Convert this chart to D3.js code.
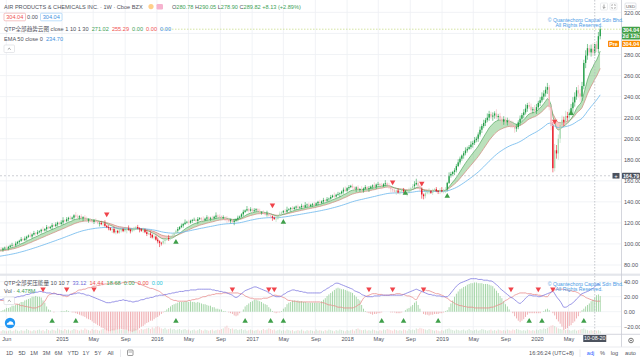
<!DOCTYPE html>
<html><head><meta charset="utf-8">
<script src="https://cdn.jsdelivr.net/npm/d3@7"></script>
<style>
html,body{margin:0;padding:0;background:#fff;}
svg{display:block;font-family:"Liberation Sans",Arial,"Noto Sans CJK SC",sans-serif;}
</style></head><body>
<svg id="c" width="640" height="360"></svg>
<script>
// ---------------- DATA ----------------
const startDate = "2014-05-05";   // first weekly bar
const firstOpen = 94.6;
const closes = [
95.0,94.6,95.8,96.5,96.0,97.2,98.4,99.1,98.6,100.4,101.9,103.0,
104.5,103.6,105.2,106.8,108.0,107.1,109.0,110.4,109.6,111.2,112.0,
113.5,112.8,114.1,116.0,115.0,
116.2,117.8,117.0,118.6,120.2,119.0,
120.5,122.4,121.6,123.5,124.8,123.9,125.0,
127.2,126.0,125.1,126.3,
124.6,125.4,123.0,122.1,123.4,121.8,121.0,
122.3,121.2,119.6,120.0,
118.8,119.5,117.2,116.0,115.0,113.4,114.2,111.0,
112.4,110.8,112.9,114.0,112.2,113.0,
114.6,113.5,112.0,113.0,115.2,116.1,114.8,114.0,
112.5,113.4,111.2,109.5,110.0,
108.6,106.2,107.0,104.1,102.5,101.0,
100.5,102.8,104.0,
105.6,104.8,106.9,108.0,
110.2,112.6,114.1,116.0,
117.4,119.0,120.3,121.0,
120.2,122.0,122.8,123.0,
121.8,123.6,124.5,123.2,122.6,124.0,
125.3,123.9,124.8,124.5,
125.8,127.0,126.1,126.0,
124.7,125.2,123.6,123.0,
121.5,123.0,120.8,122.0,
123.5,124.9,126.0,
128.2,130.5,131.8,133.0,
131.6,132.9,131.2,132.0,
133.0,131.5,129.8,130.0,
129.2,128.0,128.6,127.0,
126.2,125.0,123.8,124.0,
126.5,128.8,130.0,
131.2,130.6,132.4,133.0,
134.1,133.2,134.6,135.5,134.4,135.0,
136.2,135.1,136.8,137.4,136.0,
137.2,138.0,137.1,138.6,140.0,139.0,
140.4,141.8,141.0,142.5,143.0,
144.6,145.9,145.0,146.7,147.5,148.0,
149.8,151.6,150.5,153.0,154.0,
155.2,153.6,152.4,153.8,151.6,152.0,
150.8,152.6,154.0,152.4,153.0,
154.5,155.6,154.2,156.4,157.0,156.0,
155.0,156.8,157.6,156.0,
154.2,152.0,
151.0,149.6,150.8,148.9,150.0,
151.2,150.0,148.2,149.0,
151.4,153.0,
155.0,156.6,158.0,
155.2,152.0,147.0,
145.4,148.2,149.0,150.0,
148.6,150.4,152.0,150.2,149.4,151.0,
150.0,151.4,152.0,
158.0,165.0,
166.5,168.4,170.0,
174.0,177.5,181.0,184.0,
186.2,188.8,190.4,192.0,
194.5,196.0,198.6,200.0,
204.0,208.5,212.0,
215.0,217.6,220.0,
223.5,221.0,222.0,
224.0,220.5,221.6,219.0,
216.2,218.4,215.6,217.0,
214.5,213.0,212.0,
209.6,211.0,
215.5,219.0,
222.4,225.0,228.6,232.0,
230.4,227.0,228.0,
226.5,230.0,
234.0,236.5,240.0,
243.0,246.5,249.0,
230.0,212.0,172.0,189.0,186.0,200.0,213.0,218.0,
216.0,221.5,220.0,
225.0,
229.0,234.5,240.0,
246.0,243.0,240.0,250.0,272.0,279.0,286.0,282.0,285.5,281.69,289.82,285.2,297.4,304.04
];
const wickUp = [
1,2,1,1,2,1,1,2,1,2,1,1,2,1,2,1,1,3,1,2,
1,2,1,1,3,1,2,1,1,2,1,2,1,1,2,3,1,2,1,2,
1,1,3,2,1,2,1,2,3,1,1,2,1,2,1,1,2,1,3,1,
2,1,1,2,3,1,2,1,1,2,1,3,1,2,1,1,2,1,1,2,
1,2,1,2,1,3,1,2,1,1,2,1,2,3,1,2,1,1,2,1,
2,1,3,1,2,1,1,2,1,2,1,1,3,1,2,1,1,2,1,3,
1,2,1,2,1,3,2,1,1,2,1,2,1,1,2,1,3,1,2,1,
2,1,1,2,1,2,1,3,1,2,1,1,2,1,2,1,1,2,3,1,
1,2,1,1,2,1,2,1,3,1,2,1,1,2,1,1,2,1,2,1,
2,1,2,1,3,1,2,1,1,2,3,1,2,1,2,1,1,2,1,3,
1,2,1,2,1,1,3,1,2,1,2,1,3,1,2,1,1,2,1,2,
3,1,2,1,1,2,1,2,3,4,2,1,2,1,2,1,3,1,2,1,
2,1,2,3,1,2,1,3,2,1,2,2,3,2,1,2,3,2,2,3,
2,3,2,2,3,2,3,2,4,3,2,3,2,4,2,3,2,3,2,3,
2,3,4,2,3,2,3,2,3,4,2,3,3,2,4,3,2,3,4,3,
3,4,2,3,4,6,5,4,3,4,3,5,4,3,4,5,4,3,5,4,
4,3,5,4,3,4,5,0.23,3,4,2
];
const wickDn = [
1,1,2,1,1,2,1,1,2,1,1,2,1,1,1,2,1,1,2,1,
2,1,1,2,1,1,2,1,1,3,1,1,2,1,1,2,1,1,2,1,
1,2,1,1,2,1,3,1,1,2,1,1,2,1,1,3,1,2,1,1,
2,1,3,1,2,1,1,2,1,1,3,1,2,1,1,2,1,3,1,2,
1,2,1,3,1,2,1,2,4,2,1,3,1,2,1,2,1,1,2,1,
1,2,1,1,2,1,2,1,1,3,1,2,1,1,2,1,2,1,1,2,
1,2,1,1,2,3,1,2,1,3,1,2,1,1,2,1,1,2,1,2,
1,1,2,1,2,1,1,2,1,2,3,1,3,1,2,1,1,2,1,1,
2,1,1,2,1,1,2,1,1,2,1,1,2,1,1,2,1,1,2,1,
1,2,1,1,2,1,1,3,1,2,1,1,2,1,1,2,3,1,2,1,
2,1,1,3,1,2,1,2,1,1,3,1,2,1,2,3,2,1,3,1,
2,1,2,1,3,1,2,1,2,1,3,2,4,3,2,1,2,1,2,1,
1,2,2,1,2,3,2,1,2,2,3,2,1,2,2,3,2,2,1,2,
3,2,2,3,2,3,2,3,2,3,2,4,3,2,3,2,4,3,2,3,
2,3,2,4,3,2,3,2,3,2,3,2,4,3,2,3,2,3,2,3,
3,4,3,4,4,3,5,6,4,3,4,5,3,4,3,5,4,3,4,5,
4,3,5,4,3,4,3,2.79,3,4,3
];
const volumes = [ // millions
5,4,6,5,4,5,6,4,5,7,5,4,6,5,5,8,6,5,4,6,
5,6,7,5,6,4,8,6,5,7,6,5,9,7,6,5,8,6,7,5,
6,8,7,6,5,7,6,9,7,6,5,8,6,7,6,5,7,8,6,9,
7,6,8,9,7,6,8,7,9,6,7,8,6,7,9,8,7,6,8,7,
8,9,10,8,11,9,12,13,11,9,8,10,7,8,9,7,8,6,7,8,
6,7,8,6,7,5,6,7,5,6,8,6,5,7,6,5,6,7,5,6,
7,6,8,9,12,14,10,8,9,7,8,6,7,8,6,7,5,6,7,6,
5,6,7,5,6,8,6,7,9,8,6,7,5,6,7,5,6,5,7,6,
5,6,4,5,6,5,7,5,4,6,5,6,5,4,7,5,6,5,4,6,
5,7,6,5,4,6,5,7,6,5,4,6,5,6,7,5,8,9,7,6,
6,7,5,6,5,7,6,5,4,6,5,7,6,8,7,6,5,7,6,5,
6,5,7,6,5,8,6,7,6,9,8,10,9,8,7,6,8,7,6,5,
6,5,4,6,5,7,8,9,7,6,5,7,6,5,6,7,5,6,8,6,
5,6,7,5,6,8,7,6,5,6,7,5,6,5,7,6,5,6,5,7,
6,5,7,6,8,7,6,5,6,5,7,6,5,6,5,7,6,8,7,9,
8,10,12,14,15,13,11,9,8,7,8,6,7,6,5,6,7,5,6,7,
8,9,7,6,5,6,5,4.478,5,6,4
];
// QTP pressure indicator lines (blue = buy, red = sell)
const buyLine = [
16,16,17,17,18,18,18,19,19,19,20,20,
21,21,22,23,23,24,25,25,26,26,27,
27,26,26,25,25,
25,24,24,24,23,23,23,22,22,22,
22,23,23,24,24,25,25,
24,24,23,22,22,21,20,
19,18,17,16,15,14,13,12,12,
12,13,13,14,14,15,15,16,
15,15,14,14,13,
13,14,14,15,16,16,17,18,
18,19,19,20,21,21,22,
22,22,23,23,
24,24,25,25,26,26,27,
27,27,28,28,28,29,29,
29,29,30,30,30,30,30,30,30,
30,29,29,28,28,27,27,26,26,25,
24,23,22,20,19,
20,22,24,26,28,29,
30,31,32,33,33,
32,31,30,29,28,27,
25,24,22,21,
20,20,20,
21,23,24,26,27,28,29,
29,28,28,27,27,26,26,25,
25,25,25,25,25,25,25,
26,28,29,31,32,34,35,37,38,
38,37,36,35,34,33,
32,31,30,28,27,26,25,23,22,21,20,
20,20,20,21,21,21,21,22,22,22,22,
22,22,22,22,22,22,22,22,
23,24,25,26,27,28,29,30,
29,28,27,26,
25,24,23,23,22,
22,21,21,21,20,20,20,20,
22,25,28,31,34,36,38,
39,40,41,42,43,44,44,
44,44,43,43,43,42,42,42,
41,41,40,
38,36,34,31,29,
27,25,23,21,19,18,
16,14,12,11,
13,15,18,20,22,
22,21,21,21,20,20,
21,22,23,24,25,26,27,
24,20,17,14,10,6,
6,7,9,
10,12,14,17,19,22,24,
25,26,27,28,30,31,33.12,
36,37,35
];
const sellLine = [
16,15,15,14,13,13,12,
11,11,10,10,9,
8,8,7,7,6,
6,5,5,5,
6,7,8,
11,14,18,22,
23,24,25,
24,23,23,22,
21,21,20,
21,23,24,25,
26,28,29,
29,30,30,31,
32,32,33,
34,34,35,35,36,
36,37,37,38,
38,38,38,38,38,38,
38,39,39,39,40,40,40,
39,39,38,37,
36,35,34,33,
32,31,31,30,
29,28,27,
25,23,22,20,
19,17,16,
15,15,14,14,
14,14,14,14,
15,15,16,
16,17,17,18,
19,20,20,21,22,
22,23,23,24,24,
24,24,25,25,25,
25,25,25,25,25,
25,24,24,
23,21,20,
19,18,18,17,17,
17,17,17,18,18,18,
19,20,21,22,
22,21,21,20,
19,18,16,15,
15,14,14,14,13,13,
13,13,13,13,13,13,13,13,13,13,13,
12,12,11,10,
9,9,8,8,7,
6,6,6,5,5,
5,5,5,5,
6,7,9,10,
14,18,
20,21,22,23,24,
24,24,23,23,23,22,22,22,
22,23,23,23,24,24,24,
23,23,22,21,21,20,
19,17,16,
20,24,27,29,
29,28,28,27,26,
25,24,24,23,22,
21,19,18,16,
14,13,11,
10,9,8,
8,7,7,6,6,
6,6,5,5,
5,5,5,5,5,5,
5,6,6,7,
8,9,10,11,
13,15,16,18,
19,20,22,23,24,25,
25,25,25,24,24,
24,23,23,23,22,22,
21,21,20,20,
23,26,29,
29,30,30,30,
30,30,29,29,
28,28,27,27,
26,25,23,22,
21,19,18,17,
16,15,14.44,
14,14,14
];
// EMA seeds (values of the averages at the first visible bar)
const emaFastLen = 10, emaSlowLen = 20, emaLongLen = 50;
const emaFastSeed = 94, emaSlowSeed = 93, emaLongSeed = 88;
// signal markers (bar index, price)
const mainSellIdx = [59,150,216,232,305];
const mainSellPx  = [128.3,136.9,158.7,157.7,216.5];
const mainBuyIdx  = [97,156,223,246,314];
const mainBuyPx   = [101.8,120.8,148.2,145.4,224.0];
const indSellIdx = [24,37,52,128,148,151,203,216,233,281,296,304];
const indBuyIdx  = [29,42,97,135,149,156,210,222,241,291,298,321];
const crossIdx = 327, crossPrice = 164.79;
const lastPrice = 304.04;
const priceTicks = [80,100,120,140,160,180,200,220,240,260,280,300,320];
const indTicks = [-20,0,20,40];
const monthTicks = ["2014-06-01","2015-01-01","2015-05-01","2015-09-01","2016-01-01","2016-05-01","2016-09-01","2017-01-01","2017-05-01","2017-09-01","2018-01-01","2018-05-01","2018-09-01","2019-01-01","2019-05-01","2019-09-01","2020-01-01","2020-05-01"];
const monthLabels = ["Jun","2015","May","Sep","2016","May","Sep","2017","May","Sep","2018","May","Sep","2019","May","Sep","2020","May"];
const rangeButtons = ["1D","5D","1M","3M","6M","YTD","1Y","5Y","All"];

// ---------------- SETUP ----------------
const svg = d3.select("#c");
const FS = 5.6;
const parse = d3.timeParse("%Y-%m-%d");
const t0 = parse(startDate);
const N = Math.min(closes.length, wickUp.length, wickDn.length, volumes.length, buyLine.length, sellLine.length);
const bars = d3.range(N).map(i => {
  const o = i === 0 ? firstOpen : closes[i-1];
  const c = closes[i];
  return {i, date: d3.timeDay.offset(t0, 7*i), o, c,
    h: Math.max(o,c) + wickUp[i], l: Math.min(o,c) - wickDn[i],
    v: volumes[i], b: buyLine[i], s: sellLine[i]};
});
function ema(src, n, seed){ const a = 2/(n+1); let e = seed; return src.map(v => (e = e + a*(v-e))); }
const cl = bars.map(d => d.c);
const eF = ema(cl, emaFastLen, emaFastSeed), eS = ema(cl, emaSlowLen, emaSlowSeed), eL = ema(cl, emaLongLen, emaLongSeed);
bars.forEach((d,i) => { d.f = eF[i]; d.sl = eS[i]; d.L = eL[i]; });

const PR = 621;                    // price-axis x
const x = d3.scaleTime().domain([parse("2015-01-01"), parse("2020-01-01")]).range([62, 537]);
const y = d3.scaleLinear().domain([80, 320]).range([265, 12.4]);
const yI = d3.scaleLinear().domain([-20, 40]).range([326.7, 281.7]);
const yV = d3.scaleLinear().domain([0, 16]).range([333.5, 324.5]);
const X = i => x(bars[i].date);

const defs = svg.append("defs");
defs.append("clipPath").attr("id","mainClip").append("rect").attr("x",0).attr("y",0).attr("width",PR).attr("height",273);
defs.append("clipPath").attr("id","indClip").append("rect").attr("x",0).attr("y",276).attr("width",PR).attr("height",58);

// ---------------- GRID ----------------
const grid = svg.append("g");
grid.selectAll(".vg").data(monthTicks.map(parse)).join("line")
  .attr("x1", d => x(d)).attr("x2", d => x(d)).attr("y1", 0).attr("y2", 334)
  .attr("stroke", "#eef0f4").attr("stroke-width", 0.8);
grid.selectAll(".hg").data(priceTicks).join("line")
  .attr("x1", 0).attr("x2", PR).attr("y1", d => y(d)).attr("y2", d => y(d))
  .attr("stroke", "#eef0f4").attr("stroke-width", 0.8);
grid.selectAll(".ig").data(indTicks).join("line")
  .attr("x1", 0).attr("x2", PR).attr("y1", d => yI(d)).attr("y2", d => yI(d))
  .attr("stroke", "#eef0f4").attr("stroke-width", 0.8);

// ---------------- MAIN PANE ----------------
const main = svg.append("g").attr("clip-path","url(#mainClip)");
const areaBetween = d3.area().x(d => X(d.i)).y0(d => y(d.sl)).y1(d => y(d.f));
defs.append("clipPath").attr("id","aboveSlow").append("path")
  .attr("d", d3.area().x(d => X(d.i)).y0(d => y(d.sl)).y1(0)(bars));
defs.append("clipPath").attr("id","belowSlow").append("path")
  .attr("d", d3.area().x(d => X(d.i)).y0(d => y(d.sl)).y1(300)(bars));
main.append("path").attr("d", areaBetween(bars)).attr("fill","rgba(76,175,80,0.38)").attr("clip-path","url(#aboveSlow)");
main.append("path").attr("d", areaBetween(bars)).attr("fill","rgba(239,83,80,0.32)").attr("clip-path","url(#belowSlow)");
main.append("path").attr("d", d3.line().x(d => X(d.i)).y(d => y(d.sl))(bars)).attr("fill","none").attr("stroke","#c98a7a").attr("stroke-width",0.7);
main.append("path").attr("d", d3.line().x(d => X(d.i)).y(d => y(d.f))(bars)).attr("fill","none").attr("stroke","#55a862").attr("stroke-width",0.7);
main.append("path").attr("d", d3.line().x(d => X(d.i)).y(d => y(d.L))(bars)).attr("fill","none").attr("stroke","#6ab6ec").attr("stroke-width",0.8);
function candleColor(d){
  const up = d.c >= d.o, trendUp = d.f >= d.sl;
  const bright = up === trendUp;
  if (up) return bright ? "#1f9d45" : "#a9d9b2";
  return bright ? "#e8101e" : "#f2b3b8";
}
const cg = main.append("g");
cg.selectAll("line").data(bars).join("line")
  .attr("x1", d => X(d.i)).attr("x2", d => X(d.i)).attr("y1", d => y(d.h)).attr("y2", d => y(d.l))
  .attr("stroke", candleColor).attr("stroke-width", 0.55);
cg.selectAll("rect").data(bars).join("rect")
  .attr("x", d => X(d.i) - 0.65).attr("width", 1.3)
  .attr("y", d => y(Math.max(d.o,d.c))).attr("height", d => Math.max(0.6, Math.abs(y(d.o)-y(d.c))))
  .attr("fill", candleColor);
const tri = d3.symbol().type(d3.symbolTriangle).size(13);
main.selectAll(".ms").data(mainSellIdx).join("path").attr("d", tri)
  .attr("transform", (d,k) => `translate(${X(d)},${y(mainSellPx[k])}) rotate(180)`).attr("fill","#f0434a");
main.selectAll(".mb").data(mainBuyIdx).join("path").attr("d", tri)
  .attr("transform", (d,k) => `translate(${X(d)},${y(mainBuyPx[k])})`).attr("fill","#3f9f4a");
main.append("line").attr("x1",160).attr("x2",PR).attr("y1",y(lastPrice)).attr("y2",y(lastPrice))
  .attr("stroke","#c9dd8c").attr("stroke-width",0.8).attr("stroke-dasharray","1.5,1.5");
main.append("line").attr("x1",0).attr("x2",612).attr("y1",y(crossPrice)).attr("y2",y(crossPrice))
  .attr("stroke","#b7bac2").attr("stroke-width",0.7).attr("stroke-dasharray","2,2");

// ---------------- INDICATOR PANE ----------------
const ind = svg.append("g").attr("clip-path","url(#indClip)");
ind.selectAll(".vol").data(bars).join("rect")
  .attr("x", d => X(d.i) - 0.5).attr("width", 1)
  .attr("y", d => yV(d.v)).attr("height", d => yV(0) - yV(d.v))
  .attr("fill", d => d.c >= d.o ? "rgba(120,180,130,0.35)" : "rgba(235,130,130,0.35)");
ind.selectAll(".hist").data(bars).join("rect")
  .attr("x", d => X(d.i) - 0.45).attr("width", 0.9)
  .attr("y", d => Math.min(yI(0), yI(d.b - d.s))).attr("height", d => Math.abs(yI(d.b - d.s) - yI(0)))
  .attr("fill", d => d.b >= d.s ? "#9fd3a2" : "#efa9ad");
ind.append("path").attr("d", d3.line().x(d => X(d.i)).y(d => yI(d.s)).curve(d3.curveMonotoneX)(bars))
  .attr("fill","none").attr("stroke","#e98b8b").attr("stroke-width",0.8);
ind.append("path").attr("d", d3.line().x(d => X(d.i)).y(d => yI(d.b)).curve(d3.curveMonotoneX)(bars))
  .attr("fill","none").attr("stroke","#7d78e0").attr("stroke-width",0.8);
ind.selectAll(".is").data(indSellIdx).join("path").attr("d", tri)
  .attr("transform", d => `translate(${X(d)},${yI(30)}) rotate(180)`).attr("fill","#f0434a");
ind.selectAll(".ib").data(indBuyIdx).join("path").attr("d", tri)
  .attr("transform", d => `translate(${X(d)},${yI(-12.5)})`).attr("fill","#3f9f4a");

svg.append("rect").attr("x",0).attr("y",273.6).attr("width",640).attr("height",2.2).attr("fill","#e4e6eb");

const cx = X(crossIdx);
svg.append("line").attr("x1",cx).attr("x2",cx).attr("y1",0).attr("y2",334)
  .attr("stroke","#b7bac2").attr("stroke-width",0.8).attr("stroke-dasharray","1.5,1.5");

// ---------------- AXES ----------------
const txtCol = "#50535e";
// the 300.00 label sits under the last-price badges, as in the reference
const priceLabelTicks = priceTicks.filter(v => v !== 300);
const ya = svg.append("g").attr("transform",`translate(${PR},0)`)
  .call(d3.axisRight(y).tickValues(priceLabelTicks).tickFormat(d3.format(".2f")).tickSize(0).tickPadding(3));
ya.select(".domain").remove();
ya.selectAll("text").attr("font-size",FS).attr("fill",txtCol).attr("font-family",null);
const yia = svg.append("g").attr("transform",`translate(${PR},0)`)
  .call(d3.axisRight(yI).tickValues(indTicks).tickFormat(d3.format(".2f")).tickSize(0).tickPadding(3));
yia.select(".domain").remove();
yia.selectAll("text").attr("font-size",FS).attr("fill",txtCol).attr("font-family",null);
const xa = svg.append("g").attr("transform","translate(0,334)")
  .call(d3.axisBottom(x).tickValues(monthTicks.map(parse)).tickFormat((d,i) => monthLabels[i]).tickSize(0).tickPadding(3.5));
xa.select(".domain").remove();
xa.selectAll("text").attr("font-size",FS).attr("fill",txtCol).attr("font-family",null);
svg.append("line").attr("x1",PR+0.5).attr("x2",PR+0.5).attr("y1",0).attr("y2",347).attr("stroke","#c9ccd4").attr("stroke-width",0.8);
svg.append("line").attr("x1",0).attr("x2",640).attr("y1",334.3).attr("y2",334.3).attr("stroke","#c9ccd4").attr("stroke-width",0.8);
svg.append("line").attr("x1",0).attr("x2",640).attr("y1",347).attr("y2",347).attr("stroke","#e4e6eb").attr("stroke-width",0.8);

function badge(yc, text, fill, x0, w){
  svg.append("rect").attr("x",x0).attr("y",yc-3.1).attr("width",w).attr("height",6.2).attr("fill",fill).attr("rx",0.6);
  svg.append("text").attr("x",x0+w/2).attr("y",yc+1.9).attr("text-anchor","middle").attr("font-size",5.3).attr("font-weight","bold").attr("fill","#fff").text(text);
}
badge(y(lastPrice)+0.6, "304.04", "#43a047", 622, 18);
badge(y(lastPrice)+7.1, "2d 12h", "#43a047", 622, 18);
badge(y(lastPrice)+14.6, "304.04", "#fb8c00", 622, 18);
badge(y(lastPrice)+14.6, "Pre", "#fb8c00", 608, 11);
svg.append("rect").attr("x",612.5).attr("y",y(crossPrice)-2.8).attr("width",7).attr("height",5.6).attr("fill","#4c525e");
svg.append("text").attr("x",616).attr("y",y(crossPrice)+2).attr("text-anchor","middle").attr("font-size",6).attr("fill","#fff").text("+");
badge(y(crossPrice), "164.79", "#4c525e", 622, 18);
svg.append("rect").attr("x",cx-11.5).attr("y",335).attr("width",23).attr("height",7).attr("fill","#4c525e");
svg.append("text").attr("x",cx).attr("y",340.4).attr("text-anchor","middle").attr("font-size",5.4).attr("fill","#fff").text("10-08-20");
svg.append("circle").attr("cx",631).attr("cy",340.5).attr("r",2.3).attr("fill","none").attr("stroke","#555").attr("stroke-width",0.8);
svg.append("circle").attr("cx",631).attr("cy",340.5).attr("r",0.8).attr("fill","#555");
svg.append("rect").attr("x",625).attr("y",3).attr("width",11).attr("height",6.5).attr("rx",1).attr("fill","#fff").attr("stroke","#cfd2d8").attr("stroke-width",0.6);
svg.append("text").attr("x",630.5).attr("y",7.9).attr("text-anchor","middle").attr("font-size",4.3).attr("fill","#555").text("USD");
svg.append("rect").attr("x",600.5).attr("y",3).attr("width",7).attr("height",7).attr("rx",1).attr("fill","#fff").attr("stroke","#d6d8dd").attr("stroke-width",0.5);
svg.append("path").attr("d","M604,4.5V8.3M602.6,7L604,8.4L605.4,7").attr("stroke","#666").attr("stroke-width",0.6).attr("fill","none");
svg.append("rect").attr("x",610).attr("y",3).attr("width",7).attr("height",7).attr("rx",1).attr("fill","#fff").attr("stroke","#d6d8dd").attr("stroke-width",0.5);
svg.append("path").attr("d","M611.8,5.8V4.8H612.8M614.2,4.8H615.2V5.8M615.2,7.2V8.2H614.2M612.8,8.2H611.8V7.2").attr("stroke","#666").attr("stroke-width",0.55).attr("fill","none");

// ---------------- LEGENDS ----------------
function legend(xp, yp, parts, size){
  const t = svg.append("text").attr("x",xp).attr("y",yp).attr("font-size",size||FS).attr("xml:space","preserve");
  parts.forEach(p => t.append("tspan").attr("fill",p[1]).text(p[0]));
  return t;
}
const gray = "#4f525b", grn = "#3ea257", red = "#ef5350", blu = "#3d8fe0";
legend(4, 8.8, [["AIR PRODUCTS & CHEMICALS INC. · 1W · Cboe BZX", gray]], 5.6);
svg.append("circle").attr("cx",151).attr("cy",6.6).attr("r",2.6).attr("fill","#ffcf8a");
svg.append("rect").attr("x",156.5).attr("y",4).attr("width",6.5).attr("height",5.4).attr("rx",1.2).attr("fill","#f6b3cf");
legend(172, 8.8, [["O",gray],["280.78",grn],[" H",gray],["290.05",grn],[" L",gray],["278.90",grn],[" C",gray],["289.82",grn],[" +8.13 (+2.89%)",grn]]);
svg.append("rect").attr("x",4).attr("y",13.2).attr("width",21.5).attr("height",7.6).attr("rx",1).attr("fill","#fff").attr("stroke","#ef9a9a").attr("stroke-width",0.6);
svg.append("text").attr("x",14.75).attr("y",18.9).attr("text-anchor","middle").attr("font-size",FS).attr("fill",red).text("304.04");
svg.append("text").attr("x",32.5).attr("y",18.9).attr("text-anchor","middle").attr("font-size",FS).attr("fill",gray).text("0.00");
svg.append("rect").attr("x",40.5).attr("y",13.2).attr("width",21.5).attr("height",7.6).attr("rx",1).attr("fill","#fff").attr("stroke","#90caf9").attr("stroke-width",0.6);
svg.append("text").attr("x",51.25).attr("y",18.9).attr("text-anchor","middle").attr("font-size",FS).attr("fill",blu).text("304.04");
legend(4, 31.4, [["QTP全部趋势云图 close 1 10 1 30  ",gray],["271.02  ",grn],["255.29  ",red],["0.00  ",grn],["0.00  ",red],["0.00",blu]]);
legend(4, 40.9, [["EMA 50 close 0  ",gray],["234.70",blu]]);
function collapseBtn(x0, y0){
  svg.append("rect").attr("x",x0).attr("y",y0).attr("width",10.5).attr("height",7.5).attr("rx",1).attr("fill","#fff").attr("stroke","#d6d8dd").attr("stroke-width",0.6);
  svg.append("path").attr("d",`M${x0+3.8},${y0+4.6}L${x0+5.25},${y0+3.2}L${x0+6.7},${y0+4.6}`).attr("stroke","#555").attr("stroke-width",0.6).attr("fill","none");
}
collapseBtn(4, 45);
legend(4, 284.8, [["QTP全部买压能量 10 10 7  ",gray],["33.12  ","#6f6ad8"],["14.44  ",red],["18.68  ",grn],["0.00  ",grn],["0.00  ",red],["0.00","#26c6da"]]);
legend(4, 293, [["Vol · ",gray],["4.478M",grn]]);
collapseBtn(4, 297);
svg.append("circle").attr("cx",10).attr("cy",323).attr("r",5.2).attr("fill","#2196f3");
svg.append("path").attr("d","M6.8,324.8 Q6.8,322.6 8.6,322.6 Q9.4,320.6 11.4,321.4 Q13.4,321.6 13.2,323.6 Q14.2,324 13.6,324.8 Z").attr("fill","#fff");
function watermark(yb){
  svg.append("text").attr("x",585.5).attr("y",yb).attr("text-anchor","middle").attr("font-size",5.2).attr("fill","#4a9be6").text("© Quantechorp Capital Sdn Bhd.");
  svg.append("text").attr("x",579).attr("y",yb+4.6).attr("text-anchor","middle").attr("font-size",5.2).attr("fill","#4a9be6").text("All Rights Reserved.");
}
watermark(22.3);
watermark(286.2);

// ---------------- BOTTOM TOOLBAR ----------------
const tb = svg.append("g").attr("font-size",FS).attr("fill",gray);
const btnX = [9.5,22,34,46.5,58.5,73,86,98,110.5];
rangeButtons.forEach((b,k) => tb.append("text").attr("x",btnX[k]).attr("y",354.5).attr("text-anchor","middle").text(b));
svg.append("line").attr("x1",120.5).attr("x2",120.5).attr("y1",349.5).attr("y2",357).attr("stroke","#d6d8dd").attr("stroke-width",0.6);
svg.append("rect").attr("x",127.5).attr("y",350).attr("width",5.5).attr("height",5.5).attr("rx",0.8).attr("fill","none").attr("stroke","#555").attr("stroke-width",0.6);
svg.append("path").attr("d","M128.5,352H132").attr("stroke","#555").attr("stroke-width",0.5);
tb.append("text").attr("x",551.5).attr("y",354.5).attr("text-anchor","middle").text("16:36:24 (UTC+8)");
svg.append("line").attr("x1",580).attr("x2",580).attr("y1",349.5).attr("y2",357).attr("stroke","#d6d8dd").attr("stroke-width",0.6);
tb.append("text").attr("x",590.5).attr("y",354.5).attr("text-anchor","middle").attr("fill","#2962ff").text("adj");
tb.append("text").attr("x",602.5).attr("y",354.5).attr("text-anchor","middle").text("%");
tb.append("text").attr("x",614.5).attr("y",354.5).attr("text-anchor","middle").text("log");
tb.append("text").attr("x",630.5).attr("y",354.5).attr("text-anchor","middle").text("auto");
</script>
</body></html>
